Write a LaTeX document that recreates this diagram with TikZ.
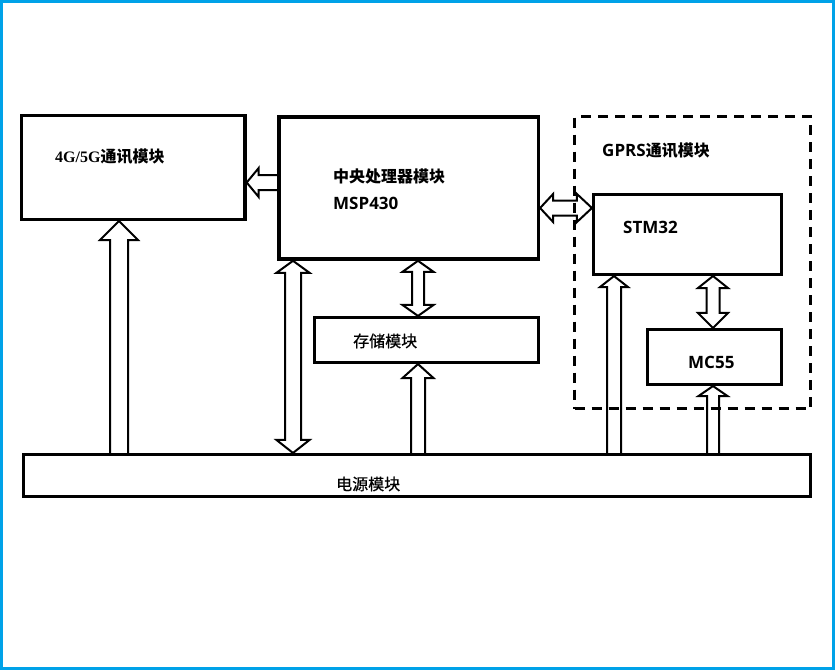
\documentclass[tikz,border=0pt]{standalone}
\usepackage{fontspec}
\newfontfamily\cjkfont{Noto Sans CJK SC}
\newfontfamily\cjkmedfont{Noto Sans CJK SC}[FakeBold=0.6]
\newfontfamily\latfont{Open Sans}
\newfontfamily\serfont{Liberation Serif}
\usetikzlibrary{calc}
\definecolor{frameblue}{HTML}{00A2E8}
\newcommand\txzhb[1]{{\cjkfont\bfseries\fontsize{16}{19}\selectfont #1}}
\newcommand\txzhr[1]{{\cjkmedfont\fontsize{16}{19}\selectfont #1}}
\newcommand\txlat[1]{{\latfont\bfseries\fontsize{17}{20}\selectfont #1}}
\newcommand\txser[1]{{\serfont\bfseries\fontsize{16}{19}\selectfont #1}}
% single block arrow: #1 start, #2 tip, #3 shaft half, #4 head half, #5 head length
\newcommand\blkone[5]{%
  \path ($(#2)!#5!(#1)$) coordinate (hb);
  \draw[arrowline] ($(#1)!#3!90:(#2)$) -- ($(hb)!#3!90:(#2)$) -- ($(hb)!#4!90:(#2)$) -- (#2)
     -- ($(hb)!#4!-90:(#2)$) -- ($(hb)!#3!-90:(#2)$) -- ($(#1)!#3!-90:(#2)$);
}
% double block arrow: #1 end A, #2 end B, #3 shaft half, #4 head half, #5 head len A, #6 head len B
\newcommand\blktwo[6]{%
  \path ($(#1)!#5!(#2)$) coordinate (ha) ($(#2)!#6!(#1)$) coordinate (hb);
  \draw[arrowline] (#1) -- ($(ha)!#4!90:(#2)$) -- ($(ha)!#3!90:(#2)$) -- ($(hb)!#3!90:(#2)$)
     -- ($(hb)!#4!90:(#2)$) -- (#2) -- ($(hb)!#4!-90:(#2)$) -- ($(hb)!#3!-90:(#2)$)
     -- ($(ha)!#3!-90:(#2)$) -- ($(ha)!#4!-90:(#2)$) -- cycle;
}
\tikzset{
  box/.style={draw=black, line width=3.5pt, inner sep=0pt, anchor=center},
  arrowline/.style={draw=black, line width=2pt, line join=miter},
  lbl/.style={inner sep=0pt, anchor=base west},
}
\begin{document}
\begin{tikzpicture}[x=1pt, y=-1pt]
\useasboundingbox (0,0) rectangle (835,670);
\fill[white] (0,0) rectangle (835,670);
\draw[frameblue, line width=3pt] (1.5,1.5) rectangle (833.5,668.5);

% boxes
\node[box, minimum width=223.3pt, minimum height=103.6pt] (g4) at (133.3,167.5) {};
\node[box, minimum width=259.3pt, minimum height=142.3pt] (cpu) at (408.7,187.9) {};
\node[draw=black, line width=3pt, dash pattern=on 10pt off 7pt, inner sep=0pt,
      minimum width=236pt, minimum height=292pt] (gprs) at (692.5,262.5) {};
\node[box, minimum width=187.6pt, minimum height=79.6pt] (stm) at (687.5,234.5) {};
\node[box, minimum width=133.6pt, minimum height=54.6pt] (mc) at (714.5,357) {};
\node[box, minimum width=223.6pt, minimum height=44.6pt] (mem) at (426.5,340) {};
\node[box, minimum width=786.9pt, minimum height=41.6pt] (pwr) at (416.9,475.5) {};

% labels
\node[lbl] (tg4) at (55,162) {\txser{4G/5G}\txzhb{通讯模块}};
\node[lbl] (tcpu) at (333,182) {\txzhb{中央处理器模块}};
\node[lbl] (tmsp) at (333,209.5) {\txlat{MSP430}};
\node[lbl] (tgprs) at (602,156) {\txlat{GPRS}\txzhb{通讯模块}};
\node[lbl] (tstm) at (623,233) {\txlat{STM32}};
\node[lbl] (tmc) at (688,368) {\txlat{MC55}};
\node[lbl] (tmem) at (353,347) {\txzhr{存储模块}};
\node[lbl] (tpwr) at (336,490) {\txzhr{电源模块}};

% connector end points
\coordinate (c1s) at (cpu.west |- 0,182.5);
\coordinate (c1t) at (g4.east |- 0,182.5);
\coordinate (c2s) at (pwr.north -| 119,0);
\coordinate (c2t) at (g4.south -| 119,0);
\coordinate (c3a) at (cpu.south -| 293,0);
\coordinate (c3b) at (pwr.north -| 293,0);
\coordinate (c4a) at (cpu.south -| 418,0);
\coordinate (c4b) at (mem.north -| 418,0);
\coordinate (c5s) at (pwr.north -| 418,0);
\coordinate (c5t) at (mem.south -| 418,0);
\coordinate (c6a) at (cpu.east |- 0,208);
\coordinate (c6b) at (stm.west |- 0,208);
\coordinate (c7s) at (pwr.north -| 614,0);
\coordinate (c7t) at (stm.south -| 614,0);
\coordinate (c8a) at (stm.south -| 713,0);
\coordinate (c8b) at (mc.north -| 713,0);
\coordinate (c9s) at (pwr.north -| 713,0);
\coordinate (c9t) at (mc.south -| 713,0);

% arrows
\blkone{c1s}{c1t}{7.5pt}{14.5pt}{12pt}
\blkone{c2s}{c2t}{9pt}{19pt}{19pt}
\blktwo{c3a}{c3b}{8pt}{16.5pt}{12pt}{13pt}
\blktwo{c4a}{c4b}{6pt}{15.5pt}{11pt}{11pt}
\blkone{c5s}{c5t}{7pt}{15.5pt}{14pt}
\blktwo{c6a}{c6b}{7.5pt}{14pt}{13pt}{15pt}
\blkone{c7s}{c7t}{7pt}{14pt}{11pt}
\blktwo{c8a}{c8b}{6.5pt}{15pt}{12pt}{15pt}
\blkone{c9s}{c9t}{6pt}{14.5pt}{10pt}
\end{tikzpicture}
\end{document}
